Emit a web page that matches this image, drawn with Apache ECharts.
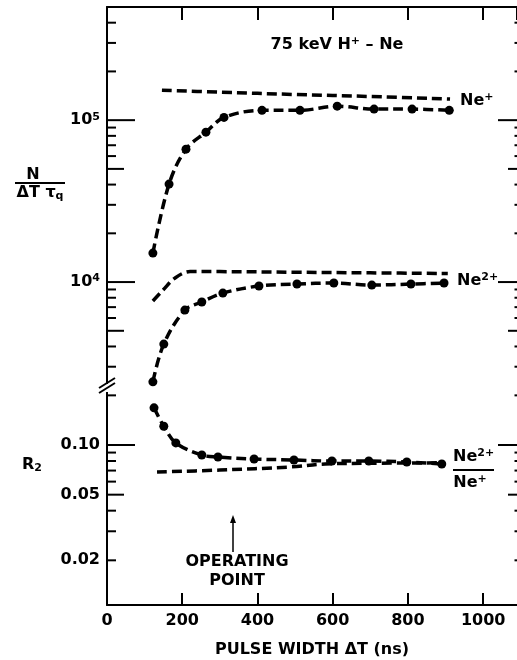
<!DOCTYPE html>
<html>
<head>
<meta charset="utf-8">
<script src="https://cdn.jsdelivr.net/npm/echarts@6/dist/echarts.min.js"></script>
<style>
html,body{margin:0;padding:0;background:#fff;}
#chart{width:517px;height:660px;}
</style>
</head>
<body>
<div id="chart"></div>
<script>
// ---------------- data ----------------
const xTickLabels = [0, 200, 400, 600, 800, 1000];

// Ne+ measured points (pulse width ns, N/(dT tau_q))
const nePlusT = [122, 165, 210, 263, 311, 412, 513, 612, 710, 811, 910];
const nePlusN = [1.51e4, 4.03e4, 6.62e4, 8.43e4, 1.04e5, 1.15e5, 1.15e5, 1.22e5, 1.17e5, 1.17e5, 1.15e5];
// Ne+ dashed curve
const nePlusFitT = [146, 300, 500, 700, 912];
const nePlusFitN = [1.53e5, 1.49e5, 1.44e5, 1.40e5, 1.35e5];

// Ne2+ measured points
const ne2T = [122, 151, 207, 252, 308, 404, 505, 603, 704, 808, 896];
const ne2N = [2.42e3, 4.14e3, 6.71e3, 7.53e3, 8.55e3, 9.45e3, 9.72e3, 9.86e3, 9.58e3, 9.72e3, 9.86e3];
// Ne2+ dashed curve
const ne2FitT = [122, 149, 181, 221, 300, 500, 700, 906];
const ne2FitN = [7.64e3, 8.93e3, 1.06e4, 1.16e4, 1.16e4, 1.15e4, 1.14e4, 1.13e4];

// R2 = Ne2+/Ne+ measured points
const r2T = [125, 151, 183, 252, 295, 391, 497, 598, 696, 797, 890];
const r2V = [0.168, 0.130, 0.103, 0.087, 0.0846, 0.0823, 0.0811, 0.0800, 0.0800, 0.0789, 0.0767];
// R2 dashed curve
const r2FitT = [133, 300, 487, 580, 700, 893];
const r2FitV = [0.0686, 0.0705, 0.0736, 0.0767, 0.0775, 0.0780];

// axis tick labels
const upperTickLabels = [1e4, 1e5];
const upperTickText = ['10{s|4}', '10{s|5}'];
const lowerTickLabels = [0.10, 0.05, 0.02];
const lowerTickText = ['0.10', '0.05', '0.02'];

// tick marks (kind: 2 major, 1 half-decade, 0 minor)
const upperMajorTicks = [1e4, 1e5];
const upperHalfTicks = [5e3, 5e4, 5e5];
const upperMinorTicks = [3e3, 4e3, 6e3, 7e3, 8e3, 9e3, 2e4, 3e4, 4e4, 6e4, 7e4, 8e4, 9e4, 2e5, 3e5, 4e5];
const lowerMajorTicks = [0.1];
const lowerHalfTicks = [0.05];
const lowerMinorTicks = [0.2, 0.09, 0.08, 0.07, 0.06, 0.04, 0.03, 0.02];

// ---------------- chart ----------------
const XMAX = 1090;
const FONT = '"DejaVu Sans", sans-serif';
const pairs = (a, b) => a.map((v, i) => [v, b[i]]);
const tickData = (maj, half, minr) =>
  maj.map(v => [0, v, 2]).concat(half.map(v => [0, v, 1])).concat(minr.map(v => [0, v, 0]));

function tickRender(params, api) {
  const v = api.value(1), kind = api.value(2);
  const L = api.coord([0, v]);
  const R = api.coord([XMAX, v]);
  const len = kind === 2 ? 28 : (kind === 1 ? 17 : 9);
  const rlen = kind === 2 ? 19 : (kind === 1 ? 9 : 2.5);
  const st = { stroke: '#000', lineWidth: 2 };
  return {
    type: 'group',
    children: [
      { type: 'line', shape: { x1: L[0], y1: L[1], x2: L[0] + len, y2: L[1] }, style: st },
      { type: 'line', shape: { x1: R[0], y1: R[1], x2: R[0] - rlen, y2: R[1] }, style: st }
    ]
  };
}
function labelRender(texts) {
  return function (params, api) {
    const v = api.value(1);
    const idx = api.value(2);
    const p = api.coord([0, v]);
    return {
      type: 'text',
      x: p[0] - 7, y: p[1],
      style: {
        text: texts[idx],
        fill: '#000',
        font: 'bold 16px ' + FONT,
        textAlign: 'right',
        textVerticalAlign: 'middle',
        rich: { s: { fontSize: 11, fontWeight: 'bold', fontFamily: FONT, verticalAlign: 'top', padding: [0, 0, 7, 0] } }
      }
    };
  };
}

const dashed = [10, 5];
const lineBase = (name, t, v, xi, yi, sym) => ({
  type: 'line', name,
  xAxisIndex: xi, yAxisIndex: yi,
  data: pairs(t, v),
  smooth: 0.35,
  showSymbol: sym, symbol: 'circle', symbolSize: 9,
  itemStyle: { color: '#000' },
  lineStyle: { color: '#000', width: 3.5, type: dashed, cap: 'butt' },
  z: sym ? 5 : 4,
  silent: true
});

const chart = echarts.init(document.getElementById('chart'), null, { renderer: 'canvas' });
const axisText = { color: '#000', fontWeight: 'bold', fontSize: 16, fontFamily: FONT };
const subRich = {
  p: { fontSize: 11, fontWeight: 'bold', fontFamily: FONT, verticalAlign: 'top', padding: [0, 0, 8, 0] },
  b: { fontSize: 11, fontWeight: 'bold', fontFamily: FONT, verticalAlign: 'bottom', padding: [6, 0, 0, 0] }
};

chart.setOption({
  animation: false,
  backgroundColor: '#fff',
  grid: [
    { left: 107, top: 7, width: 410, height: 377 },
    { left: 107, top: 392, width: 410, height: 213 }
  ],
  xAxis: [
    {
      gridIndex: 0, type: 'value', min: 0, max: XMAX, interval: 200, position: 'top',
      axisLine: { show: true, lineStyle: { color: '#000', width: 2 } },
      axisTick: { show: true, inside: true, length: 13, lineStyle: { color: '#000', width: 2 } },
      axisLabel: { show: false }, splitLine: { show: false }
    },
    {
      gridIndex: 1, type: 'value', min: 0, max: XMAX, interval: 200, position: 'bottom',
      axisLine: { show: true, lineStyle: { color: '#000', width: 2 } },
      axisTick: { show: true, inside: true, length: 12, lineStyle: { color: '#000', width: 2 } },
      axisLabel: Object.assign({ margin: 8, showMaxLabel: false, formatter: v => (v % 200 === 0 ? String(v) : '') }, axisText),
      splitLine: { show: false },
      name: 'PULSE WIDTH \u0394T (ns)', nameLocation: 'middle', nameGap: 37,
      nameTextStyle: axisText
    }
  ],
  yAxis: [
    {
      gridIndex: 0, type: 'log', logBase: 10, min: 2346, max: 5e5,
      axisLine: { show: true, lineStyle: { color: '#000', width: 2 } },
      axisTick: { show: false }, axisLabel: { show: false }, splitLine: { show: false }
    },
    {
      gridIndex: 1, type: 'log', logBase: 10, min: 0.01072, max: 0.2096,
      axisLine: { show: true, lineStyle: { color: '#000', width: 2 } },
      axisTick: { show: false }, axisLabel: { show: false }, splitLine: { show: false }
    }
  ],
  series: [
    { type: 'custom', xAxisIndex: 0, yAxisIndex: 0, clip: false, silent: true,
      data: tickData(upperMajorTicks, upperHalfTicks, upperMinorTicks), encode: { x: 0, y: 1 }, renderItem: tickRender },
    { type: 'custom', xAxisIndex: 1, yAxisIndex: 1, clip: false, silent: true,
      data: tickData(lowerMajorTicks, lowerHalfTicks, lowerMinorTicks), encode: { x: 0, y: 1 }, renderItem: tickRender },
    { type: 'custom', xAxisIndex: 0, yAxisIndex: 0, clip: false, silent: true,
      data: upperTickLabels.map((v, i) => [0, v, i]), encode: { x: 0, y: 1 }, renderItem: labelRender(upperTickText) },
    { type: 'custom', xAxisIndex: 1, yAxisIndex: 1, clip: false, silent: true,
      data: lowerTickLabels.map((v, i) => [0, v, i]), encode: { x: 0, y: 1 }, renderItem: labelRender(lowerTickText) },

    lineBase('Ne+ fit', nePlusFitT, nePlusFitN, 0, 0, false),
    lineBase('Ne+', nePlusT, nePlusN, 0, 0, true),
    lineBase('Ne2+ fit', ne2FitT, ne2FitN, 0, 0, false),
    lineBase('Ne2+', ne2T, ne2N, 0, 0, true),
    lineBase('R2 fit', r2FitT, r2FitV, 1, 1, false),
    lineBase('R2', r2T, r2V, 1, 1, true)
  ],
  graphic: [
    // axis break marks
    { type: 'rect', shape: { x: 100, y: 384, width: 14, height: 8 }, style: { fill: '#fff' }, z: 50 },
    { type: 'line', shape: { x1: 99, y1: 393, x2: 115, y2: 383 }, style: { stroke: '#000', lineWidth: 2 }, z: 51 },
    { type: 'line', shape: { x1: 99, y1: 388, x2: 115, y2: 378 }, style: { stroke: '#000', lineWidth: 2 }, z: 51 },
    // title
    { type: 'text', x: 337, y: 45, z: 60,
      style: { text: '75 keV H{p|+} \u2013 Ne', font: 'bold 16px ' + FONT, fill: '#000', textAlign: 'center', textVerticalAlign: 'middle', rich: subRich } },
    // curve labels
    { type: 'text', x: 460, y: 101, z: 60,
      style: { text: 'Ne{p|+}', font: 'bold 16px ' + FONT, fill: '#000', textAlign: 'left', textVerticalAlign: 'middle', rich: subRich } },
    { type: 'text', x: 457, y: 281, z: 60,
      style: { text: 'Ne{p|2+}', font: 'bold 16px ' + FONT, fill: '#000', textAlign: 'left', textVerticalAlign: 'middle', rich: subRich } },
    { type: 'text', x: 453, y: 457, z: 60,
      style: { text: 'Ne{p|2+}', font: 'bold 16px ' + FONT, fill: '#000', textAlign: 'left', textVerticalAlign: 'middle', rich: subRich } },
    { type: 'line', shape: { x1: 453, y1: 470, x2: 494, y2: 470 }, style: { stroke: '#000', lineWidth: 2 }, z: 60 },
    { type: 'text', x: 470, y: 483, z: 60,
      style: { text: 'Ne{p|+}', font: 'bold 16px ' + FONT, fill: '#000', textAlign: 'center', textVerticalAlign: 'middle', rich: subRich } },
    // y titles
    { type: 'text', x: 33, y: 175, z: 60,
      style: { text: 'N', font: 'bold 16px ' + FONT, fill: '#000', textAlign: 'center', textVerticalAlign: 'middle' } },
    { type: 'line', shape: { x1: 15, y1: 183, x2: 65, y2: 183 }, style: { stroke: '#000', lineWidth: 2 }, z: 60 },
    { type: 'text', x: 40, y: 193, z: 60,
      style: { text: '\u0394T \u03c4{b|q}', font: 'bold 16px ' + FONT, fill: '#000', textAlign: 'center', textVerticalAlign: 'middle', rich: subRich } },
    { type: 'text', x: 32, y: 465, z: 60,
      style: { text: 'R{b|2}', font: 'bold 16px ' + FONT, fill: '#000', textAlign: 'center', textVerticalAlign: 'middle', rich: subRich } },
    // operating point annotation
    { type: 'line', shape: { x1: 233, y1: 552, x2: 233, y2: 521 }, style: { stroke: '#000', lineWidth: 1.5 }, z: 60 },
    { type: 'polygon', shape: { points: [[233, 515], [230, 523], [236, 523]] }, style: { fill: '#000' }, z: 60 },
    { type: 'text', x: 237, y: 562, z: 60,
      style: { text: 'OPERATING', font: 'bold 16px ' + FONT, fill: '#000', textAlign: 'center', textVerticalAlign: 'middle' } },
    { type: 'text', x: 237, y: 581, z: 60,
      style: { text: 'POINT', font: 'bold 16px ' + FONT, fill: '#000', textAlign: 'center', textVerticalAlign: 'middle' } }
  ]
});
</script>
</body>
</html>
